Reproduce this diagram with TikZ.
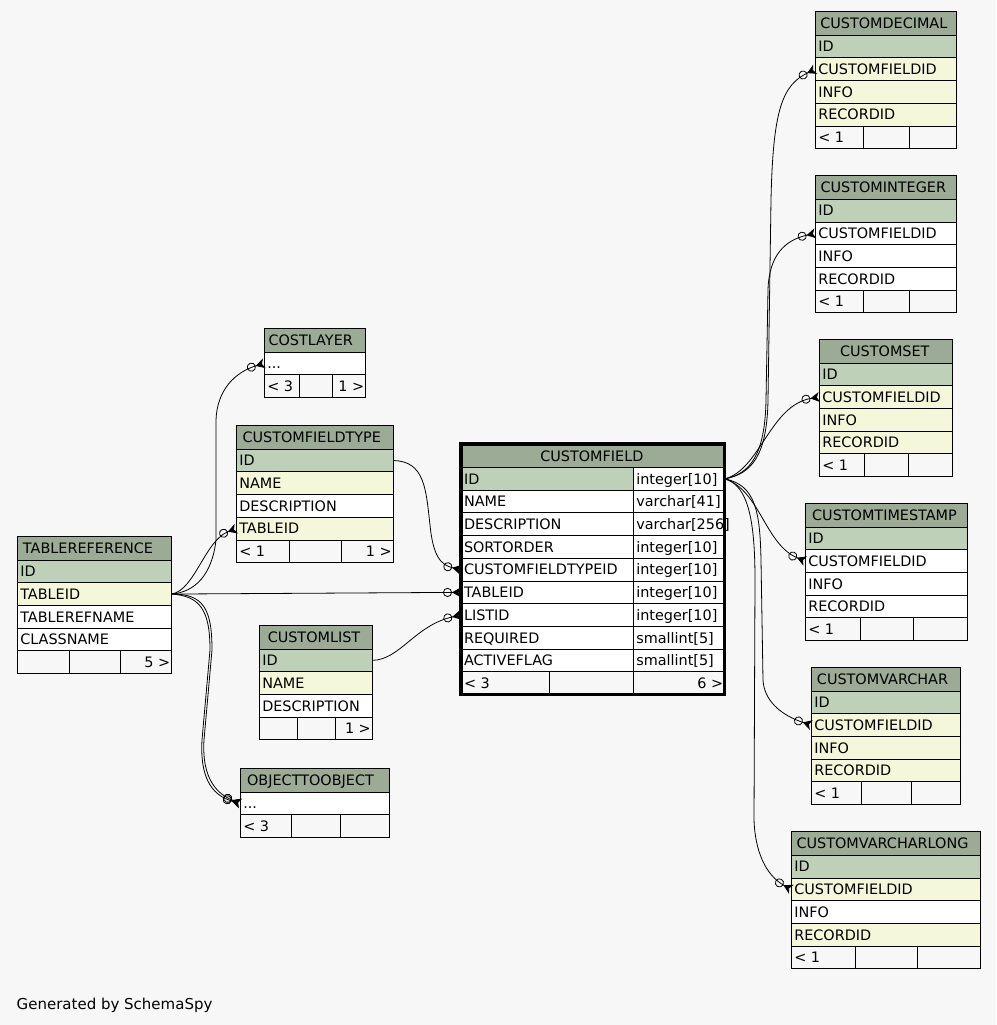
\documentclass[tikz,border=0pt]{standalone}
\usepackage{fontspec}
\setmainfont{DejaVu Sans}
\usetikzlibrary{arrows.meta}
\definecolor{pagebg}{HTML}{F7F7F7}
\definecolor{hdrc}{HTML}{9BAB96}
\definecolor{pkc}{HTML}{BED1B8}
\definecolor{idxc}{HTML}{F4F7DA}
\tikzset{
 cellbox/.style={draw=black, line width=0.9pt, inner sep=0pt, outer sep=0pt, minimum height=22.7pt, text height=10.5pt, text depth=0pt, font=\fontsize{14.4}{16}\selectfont},
 hdrbox/.style={cellbox, fill=hdrc, minimum height=23.5pt},
 fk/.style={draw=black, line width=0.8pt, -{Circle[open,length=9pt,width=9pt] Stealth[reversed,length=9pt,width=10pt,inset=2.5pt]}},
}
\newcommand\thead[6]{\node[hdrbox,minimum width=#4pt,anchor=north west] (#1) at (#2,#3) {\makebox[#4pt][c]{#5\hspace{#6pt}}};}
\newcommand\trow[5]{\node[cellbox,fill=#4,minimum width=#3pt,anchor=north west] (#1) at (#2.south west) {\makebox[#3pt][l]{\hspace{3pt}#5}};}
\newcommand\trowtwo[7]{\node[cellbox,fill=#5,minimum width=#3pt,anchor=north west] (#1) at (#2.south west) {\makebox[#3pt][l]{\hspace{3pt}#6}};
 \node[cellbox,fill=white,minimum width=#4pt,anchor=north west] (#1t) at (#1.north east) {\makebox[#4pt][l]{\hspace{3pt}#7}};}
\newcommand\tfoot[7]{%
 \node[cellbox,minimum width=#3pt,anchor=north west] (#1-a) at (#2.south west) {\makebox[#3pt][l]{\hspace{3pt}#6}};
 \node[cellbox,minimum width=#4pt,anchor=north west] (#1-b) at (#1-a.north east) {};
 \node[cellbox,minimum width=#5pt,anchor=north west] (#1-c) at (#1-b.north east) {\makebox[#5pt][r]{#7\hspace{1.5pt}}};}
\begin{document}
\begin{tikzpicture}[x=1pt,y=-1pt]
\useasboundingbox (0,0) rectangle (996,1025);
\fill[pagebg] (0,0) rectangle (996,1025);
% TABLEREFERENCE
\thead{tr-h}{17.3}{536.5}{154.4}{TABLEREFERENCE}{13}
\trow{tr-id}{tr-h}{154.4}{pkc}{ID}
\trow{tr-tableid}{tr-id}{154.4}{idxc}{TABLEID}
\trow{tr-name}{tr-tableid}{154.4}{white}{TABLEREFNAME}
\trow{tr-class}{tr-name}{154.4}{white}{CLASSNAME}
\tfoot{tr-f}{tr-class}{52}{51}{51.4}{}{5 >}
% COSTLAYER
\thead{cl-h}{264.3}{328.5}{101.4}{COSTLAYER}{8.6}
\trow{cl-dots}{cl-h}{101.4}{white}{...}
\tfoot{cl-f}{cl-dots}{35}{33.4}{33}{< 3}{1 >}
% CUSTOMFIELDTYPE
\thead{cft-h}{236.3}{425.7}{157}{CUSTOMFIELDTYPE}{6}
\trow{cft-id}{cft-h}{157}{pkc}{ID}
\trow{cft-name}{cft-id}{157}{idxc}{NAME}
\trow{cft-desc}{cft-name}{157}{white}{DESCRIPTION}
\trow{cft-tableid}{cft-desc}{157}{idxc}{TABLEID}
\tfoot{cft-f}{cft-tableid}{53}{52}{52}{< 1}{1 >}
% CUSTOMLIST
\thead{cls-h}{259.3}{625.5}{113}{CUSTOMLIST}{3.6}
\trow{cls-id}{cls-h}{113}{pkc}{ID}
\trow{cls-name}{cls-id}{113}{idxc}{NAME}
\trow{cls-desc}{cls-name}{113}{white}{DESCRIPTION}
\tfoot{cls-f}{cls-desc}{38}{38}{37}{}{1 >}
% OBJECTTOOBJECT
\thead{oo-h}{240.3}{768.5}{149}{OBJECTTOOBJECT}{8.6}
\trow{oo-dots}{oo-h}{149}{white}{...}
\tfoot{oo-f}{oo-dots}{51}{49}{49}{< 3}{}
% CUSTOMFIELD
\thead{cf-h}{461}{444}{263.7}{CUSTOMFIELD}{2}
\trowtwo{cf-id}{cf-h}{172.3}{91.4}{pkc}{ID}{integer[10]}
\trowtwo{cf-name}{cf-id}{172.3}{91.4}{white}{NAME}{varchar[41]}
\trowtwo{cf-desc}{cf-name}{172.3}{91.4}{white}{DESCRIPTION}{varchar[256]}
\trowtwo{cf-sort}{cf-desc}{172.3}{91.4}{white}{SORTORDER}{integer[10]}
\trowtwo{cf-cftid}{cf-sort}{172.3}{91.4}{white}{CUSTOMFIELDTYPEID}{integer[10]}
\trowtwo{cf-tableid}{cf-cftid}{172.3}{91.4}{white}{TABLEID}{integer[10]}
\trowtwo{cf-listid}{cf-tableid}{172.3}{91.4}{white}{LISTID}{integer[10]}
\trowtwo{cf-req}{cf-listid}{172.3}{91.4}{white}{REQUIRED}{smallint[5]}
\trowtwo{cf-act}{cf-req}{172.3}{91.4}{white}{ACTIVEFLAG}{smallint[5]}
\tfoot{cf-f}{cf-act}{88}{84.3}{91.4}{< 3}{6 >}
\draw[line width=3.4pt] (cf-h.north west) rectangle (cf-f-c.south east);
% CUSTOMDECIMAL
\thead{cd-h}{815.3}{11.7}{141}{CUSTOMDECIMAL}{4}
\trow{cd-id}{cd-h}{141}{pkc}{ID}
\trow{cd-cfid}{cd-id}{141}{idxc}{CUSTOMFIELDID}
\trow{cd-info}{cd-cfid}{141}{idxc}{INFO}
\trow{cd-rec}{cd-info}{141}{idxc}{RECORDID}
\tfoot{cd-f}{cd-rec}{48}{46}{47}{< 1}{}
% CUSTOMINTEGER
\thead{ci-h}{815.3}{175.8}{141}{CUSTOMINTEGER}{5}
\trow{ci-id}{ci-h}{141}{pkc}{ID}
\trow{ci-cfid}{ci-id}{141}{white}{CUSTOMFIELDID}
\trow{ci-info}{ci-cfid}{141}{white}{INFO}
\trow{ci-rec}{ci-info}{141}{white}{RECORDID}
\tfoot{ci-f}{ci-rec}{48}{46}{47}{< 1}{}
% CUSTOMSET
\thead{cs-h}{819.3}{339.5}{133}{CUSTOMSET}{2}
\trow{cs-id}{cs-h}{133}{pkc}{ID}
\trow{cs-cfid}{cs-id}{133}{idxc}{CUSTOMFIELDID}
\trow{cs-info}{cs-cfid}{133}{idxc}{INFO}
\trow{cs-rec}{cs-info}{133}{idxc}{RECORDID}
\tfoot{cs-f}{cs-rec}{45}{44}{44}{< 1}{}
% CUSTOMTIMESTAMP
\thead{ct-h}{805.3}{503.5}{162}{CUSTOMTIMESTAMP}{3.6}
\trow{ct-id}{ct-h}{162}{pkc}{ID}
\trow{ct-cfid}{ct-id}{162}{white}{CUSTOMFIELDID}
\trow{ct-info}{ct-cfid}{162}{white}{INFO}
\trow{ct-rec}{ct-info}{162}{white}{RECORDID}
\tfoot{ct-f}{ct-rec}{55}{53}{54}{< 1}{}
% CUSTOMVARCHAR
\thead{cv-h}{811.3}{667.5}{149}{CUSTOMVARCHAR}{6.6}
\trow{cv-id}{cv-h}{149}{pkc}{ID}
\trow{cv-cfid}{cv-id}{149}{idxc}{CUSTOMFIELDID}
\trow{cv-info}{cv-cfid}{149}{idxc}{INFO}
\trow{cv-rec}{cv-info}{149}{idxc}{RECORDID}
\tfoot{cv-f}{cv-rec}{50}{50}{49}{< 1}{}
% CUSTOMVARCHARLONG
\thead{cvl-h}{791.3}{831.8}{189}{CUSTOMVARCHARLONG}{6.6}
\trow{cvl-id}{cvl-h}{189}{pkc}{ID}
\trow{cvl-cfid}{cvl-id}{189}{idxc}{CUSTOMFIELDID}
\trow{cvl-info}{cvl-cfid}{189}{white}{INFO}
\trow{cvl-rec}{cvl-info}{189}{idxc}{RECORDID}
\tfoot{cvl-f}{cvl-rec}{64}{62}{63}{< 1}{}
% connectors from CUSTOMFIELD.ID
\draw[fk] (cf-idt.east) .. controls (752,474) and (767,455) .. (768,400) -- (771,200) .. controls (773,110) and (782,85) .. (cd-cfid.west);
\draw[fk] (cf-idt.east) .. controls (750,474) and (765,455) .. (766,400) -- (768,290) .. controls (769,255) and (785,240) .. (ci-cfid.west);
\draw[fk] (cf-idt.east) .. controls (760,470) and (770,405) .. (cs-cfid.west);
\draw[fk] (cf-idt.east) .. controls (760,490) and (765,545) .. (ct-cfid.west);
\draw[fk] (cf-idt.east) .. controls (755,485) and (760,510) .. (761,560) -- (763,680) .. controls (764,700) and (780,715) .. (cv-cfid.west);
\draw[fk] (cf-idt.east) .. controls (748,485) and (755,520) .. (755,580) -- (754,820) .. controls (755,850) and (765,875) .. (cvl-cfid.west);
% connectors into CUSTOMFIELD
\draw[fk] (cft-id.east) .. controls (425,461) and (426,490) .. (430,525) .. controls (433,555) and (440,565) .. (cf-cftid.west);
\draw[fk] (tr-tableid.east) -- (cf-tableid.west);
\draw[fk] (cls-id.east) .. controls (400,660) and (415,625) .. (cf-listid.west);
% connectors from TABLEREFERENCE.TABLEID
\draw[fk] (tr-tableid.east) .. controls (195,592) and (212,575) .. (216,540) -- (216,420) .. controls (217,390) and (235,372) .. (cl-dots.west);
\draw[fk] (tr-tableid.east) .. controls (195,590) and (205,540) .. (cft-tableid.west);
\draw[fk] (tr-tableid.east) .. controls (200,596) and (210,610) .. (210,650) -- (202,740) .. controls (200,775) and (210,795) .. (oo-dots.west);
\draw[fk] (tr-tableid.east) .. controls (203,594) and (212,608) .. (212,650) -- (204,740) .. controls (202,772) and (212,792) .. (oo-dots.west);
\node[anchor=base west, inner sep=0pt, font=\fontsize{15}{17}\selectfont] (gen) at (16.5,1009.5) {Generated by SchemaSpy};
\end{tikzpicture}
\end{document}
